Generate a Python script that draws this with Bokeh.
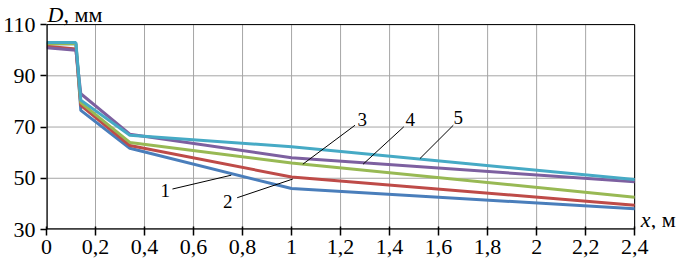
from bokeh.plotting import figure
from bokeh.models import Range1d, FixedTicker, Label
from bokeh.embed import file_html
from bokeh.resources import INLINE

# data
x_m = [0, 0.12, 0.14, 0.34, 1.0, 2.4]
d1 = [102.5, 102.5, 76.5, 61.7, 46.0, 38.1]
d2 = [101.5, 100.5, 78.5, 62.8, 50.5, 39.5]
d3 = [102.5, 102.5, 79.5, 64.0, 56.0, 42.6]
d4 = [101.0, 100.0, 83.0, 67.2, 58.0, 48.6]
d5 = [103.0, 103.0, 80.5, 66.8, 62.3, 49.5]
series = [d1, d2, d3, d4, d5]
series_names = ["1", "2", "3", "4", "5"]
x_ticks = [0, 0.2, 0.4, 0.6, 0.8, 1.0, 1.2, 1.4, 1.6, 1.8, 2.0, 2.2, 2.4]
x_tick_labels = ["0", "0,2", "0,4", "0,6", "0,8", "1", "1,2", "1,4", "1,6", "1,8", "2", "2,2", "2,4"]
y_ticks = [30, 50, 70, 90, 110]

X0, X1 = x_ticks[0], x_ticks[-1]
Y0, Y1 = y_ticks[0], y_ticks[-1]

colors = ["#4A7EBB", "#BE4B48", "#98B954", "#7D60A0", "#46AAC5"]
FONT = "'Liberation Serif'"

# frame extended beyond the data box so that axis titles can sit inside it
p = figure(width=679, height=263, output_backend="svg", toolbar_location=None,
           x_range=Range1d(X0, X1 + 0.183), y_range=Range1d(Y0, Y1 + 9.4),
           min_border_left=44, min_border_right=0, min_border_top=0, min_border_bottom=34)
p.outline_line_color = None
p.background_fill_color = "white"
p.border_fill_color = "white"
p.grid.visible = False

for ax, ticks in ((p.xaxis[0], x_ticks), (p.yaxis[0], y_ticks)):
    ax.ticker = FixedTicker(ticks=ticks)
    ax.axis_line_color = None
    ax.major_tick_line_color = "black"
    ax.major_tick_line_width = 1.5
    ax.minor_tick_line_color = None
    ax.major_label_text_font = FONT
    ax.major_label_text_font_size = "22px"
    ax.major_label_text_color = "black"
p.xaxis.major_label_overrides = {t: l for t, l in zip(x_ticks, x_tick_labels)}
p.xaxis.major_tick_in = 3
p.xaxis.major_tick_out = 6
p.xaxis.major_label_standoff = 4
p.yaxis.major_tick_in = 0
p.yaxis.major_tick_out = 6
p.yaxis.major_label_standoff = 5

# grid limited to the data box
p.segment(x0=x_ticks, y0=[Y0] * len(x_ticks), x1=x_ticks, y1=[Y1] * len(x_ticks),
          line_color="#a6a6a6", line_width=1)
p.segment(x0=[X0] * len(y_ticks), y0=y_ticks, x1=[X1] * len(y_ticks), y1=y_ticks,
          line_color="#a6a6a6", line_width=1)
# box: thin top/right, thick left/bottom
p.line([X0, X1, X1], [Y1, Y1, Y0], line_color="black", line_width=1)

for d, c in zip(series, colors):
    p.line(x_m, d, line_color=c, line_width=3)

p.line([X0, X0], [Y0, Y1], line_color="black", line_width=2.5)
p.line([X0, X1], [Y0, Y0], line_color="black", line_width=2.5)

# leader lines and series labels
leaders = [
    ((0.514, 45.8), (0.754, 51.2), (0.485, 45.2)),
    ((0.778, 42.4), (1.005, 49.7), (0.740, 40.9)),
    ((1.259, 70.7), (1.046, 55.5), (1.288, 73.0)),
    ((1.458, 70.1), (1.292, 55.5), (1.484, 72.8)),
    ((1.660, 70.7), (1.524, 57.7), (1.680, 73.6)),
]
for name, (a, b, t) in zip(series_names, leaders):
    p.line([a[0], b[0]], [a[1], b[1]], line_color="black", line_width=1)
    p.add_layout(Label(x=t[0], y=t[1], text=name, text_font=FONT, text_font_size="19px",
                       text_align="center", text_baseline="middle", text_color="black"))

# axis titles
p.add_layout(Label(x=X0, y=Y1, x_offset=1, y_offset=-2, text="D", text_font=FONT,
                   text_font_style="italic", text_font_size="22px", text_baseline="bottom",
                   text_color="black"))
p.add_layout(Label(x=X0, y=Y1, x_offset=17, y_offset=-2, text=", мм", text_font=FONT,
                   text_font_size="22px", text_baseline="bottom", text_color="black"))
p.add_layout(Label(x=X1, y=Y0, x_offset=6, y_offset=-2, text="x", text_font=FONT,
                   text_font_style="italic", text_font_size="22px", text_baseline="bottom",
                   text_color="black"))
p.add_layout(Label(x=X1, y=Y0, x_offset=16, y_offset=-2, text=", м", text_font=FONT,
                   text_font_size="22px", text_baseline="bottom", text_color="black"))

open("out.html", "w").write(file_html(p, INLINE))
